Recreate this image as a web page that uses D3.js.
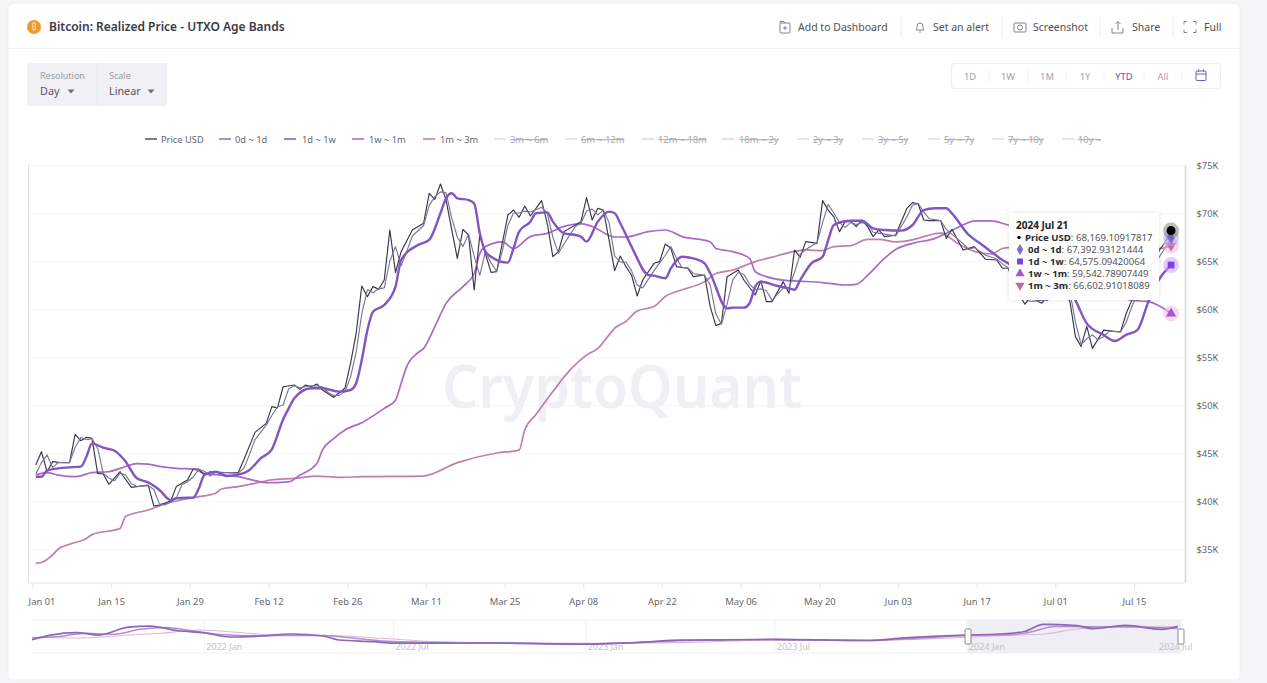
<!DOCTYPE html>
<html><head><meta charset="utf-8">
<script src="https://cdn.jsdelivr.net/npm/d3@7"></script>
<style>
html,body{margin:0;padding:0;background:#f6f6f8;overflow:hidden}
svg{display:block}
text{font-family:"Noto Sans","Open Sans",sans-serif}
</style></head><body><div id="chart"></div>
<script>
// ---------- text ----------
const chartTitle = "Bitcoin: Realized Price - UTXO Age Bands";
const actionLabels = ["Add to Dashboard","Set an alert","Screenshot","Share","Full"];
const rangeLabels = ["1D","1W","1M","1Y","YTD","All"];
const activeLegend = ["Price USD","0d ~ 1d","1d ~ 1w","1w ~ 1m","1m ~ 3m"];
const hiddenLegend = ["3m ~ 6m","6m ~ 12m","12m ~ 18m","18m ~ 2y","2y ~ 3y","3y ~ 5y","5y ~ 7y","7y ~ 10y","10y ~"];
const yTicks = [35,40,45,50,55,60,65,70,75];
const xTickLabels = ["Jan 01","Jan 15","Jan 29","Feb 12","Feb 26","Mar 11","Mar 25","Apr 08","Apr 22","May 06","May 20","Jun 03","Jun 17","Jul 01","Jul 15"];
const overviewLabels = ["2022 Jan","2022 Jul","2023 Jan","2023 Jul","2024 Jan","2024 Jul"];
const overviewLabelDates = ["2022-01-01","2022-07-01","2023-01-01","2023-07-01","2024-01-01","2024-07-01"];

// ---------- main series: [day of 2024 counted from Jan 01, value in $K] ----------
const priceUsd = [[0,43.75],[1,45.14],[2,43.05],[3,44.1],[4,44.03],[6,44],[7,46.94],[8,46.28],[9,46.63],[10,46.53],[11,42.88],[12,42.81],[13,41.74],[15,43.05],[17,41.42],[20,41.67],[21,39.48],[22,39.58],[24,40],[25,41.5],[27,42.19],[28,43.33],[29,43.33],[30,42.7],[31,43.05],[33,42.95],[36,42.95],[37,44.27],[39,47.15],[41,48.09],[42,49.83],[43,49.7],[44,51.9],[46,52.08],[47,51.63],[48,52.08],[49,51.9],[50,52.19],[51,51.56],[53,50.8],[55,51.74],[56,54.34],[57,57.47],[58,62.4],[59,61.29],[60,62.33],[61,62.05],[62,63.02],[63,68.23],[64,63.79],[65,65.97],[67,68.23],[69,68.92],[70,72.05],[71,71.42],[72,73.02],[73,71.35],[74,68.3],[75,65.28],[76,68.3],[77,67.71],[78,61.98],[79,67.71],[81,63.82],[82,63.89],[84,69.79],[85,70.31],[86,69.55],[87,70.73],[88,69.69],[90,71.29],[91,68.93],[92,65.45],[93,65.97],[94,68.06],[96,68.75],[97,69.1],[98,71.6],[99,69.27],[100,70.49],[101,70.3],[102,67.19],[103,64],[104,65.52],[105,64.41],[106,63.54],[107,61.36],[108,63.02],[110,64.76],[111,64.93],[112,66.77],[113,66.32],[114,64.41],[116,64.24],[117,63.37],[119,63.54],[120,60.25],[121,58.27],[122,58.51],[123,63.37],[125,64.06],[126,63.02],[128,61.46],[129,62.92],[130,60.77],[131,60.77],[133,62.85],[134,61.63],[135,66.15],[136,65.38],[137,67.02],[139,66.84],[140,71.29],[141,70.3],[142,69.6],[143,68.06],[144,69.1],[145,69.1],[146,68.58],[147,69.27],[148,68.58],[149,67.54],[150,68.23],[151,67.54],[153,67.7],[155,70.49],[156,71.08],[157,70.94],[158,69.27],[159,69.2],[161,69.2],[162,67.36],[163,68.3],[165,66.15],[166,66.32],[167,66.5],[169,65.18],[171,65.1],[172,64.24],[173,64.24],[175,61.5],[176,60.5],[177,61.2],[179,60.6],[180,61.3],[182,62.5],[184,60.8],[185,57.1],[186,56.1],[187,58.2],[188,55.9],[190,57.8],[193,57.6],[194,59.5],[195,60.9],[197,64],[199,65],[200,66.2],[201,67],[202,68.17]];
const band0d1d = [[0,42.8],[1,44],[2,44.8],[3,43.5],[4,44],[6,44],[7,45.6],[8,46.6],[9,46.4],[10,46.5],[11,45.5],[12,42.9],[13,42.4],[14,42.1],[15,42.9],[16,42.7],[17,41.8],[18,41.5],[20,41.6],[21,41.2],[22,39.7],[23,39.6],[24,39.9],[25,40.3],[26,41.7],[27,42],[28,42.5],[29,43.3],[30,43.1],[31,42.6],[32,43],[33,43],[36,42.9],[37,43.4],[38,44.8],[39,46.4],[41,47.9],[42,48.9],[43,49.8],[44,50],[45,51.7],[46,52],[47,51.8],[48,51.9],[49,52],[50,52],[51,51.9],[52,51.3],[53,51],[54,51],[55,51.4],[56,52.9],[57,55.5],[58,59.5],[59,62],[60,61.7],[61,62.1],[62,62.2],[63,65],[64,66.5],[65,64.5],[66,66],[67,67.6],[69,68.7],[70,70.8],[71,71.7],[72,72.2],[73,72.1],[74,69.5],[75,67.5],[76,66.5],[77,67.8],[78,65.5],[79,63.5],[80,66],[81,64.8],[82,63.9],[83,66],[84,68.7],[85,70],[86,70],[87,70.2],[88,70.1],[90,70.6],[91,70],[92,67.5],[93,65.8],[94,66.8],[96,68.6],[97,68.9],[98,70.2],[99,70.4],[100,69.8],[101,70.3],[102,69],[103,65.5],[104,64.9],[105,64.9],[106,64],[107,62.5],[108,62.2],[110,64],[111,64.8],[112,65.6],[113,66.5],[114,65.3],[115,64.3],[116,64.3],[117,63.7],[119,63.5],[120,62.5],[121,59.5],[122,58.4],[123,60.5],[124,63],[125,63.8],[126,63.6],[127,62.6],[128,62],[129,62.1],[130,61.9],[131,60.9],[133,62.2],[134,62.2],[135,63.8],[136,65.7],[137,66.2],[139,66.9],[140,69],[141,70.9],[142,70],[143,69],[144,68.5],[145,69],[146,68.8],[147,69],[148,68.9],[149,68],[150,67.9],[151,67.8],[153,67.6],[155,69.6],[156,70.8],[157,71],[158,70.1],[159,69.4],[161,69.2],[162,68.3],[163,67.8],[165,66.8],[166,66.2],[167,66.4],[169,65.6],[171,65.2],[172,64.7],[173,64.3],[175,62],[176,61],[177,60.8],[179,60.9],[180,60.9],[182,61.9],[183,62],[184,61.8],[185,58.6],[186,56.3],[187,56.9],[188,57.3],[189,56.8],[190,57.1],[191,57.7],[193,57.6],[194,58.6],[195,60.2],[197,63],[199,64.5],[200,65.5],[201,66.4],[202,67.39]];
const band1d1w = [[0,42.53],[1,42.53],[2,43.16],[4,43.4],[6,43.5],[8,43.58],[9,44.6],[10,46],[12,45.55],[14,45.24],[16,44.1],[18,42.36],[20,41.94],[22,41.15],[24,40.1],[25,40.28],[27,40.35],[28,40.35],[29,41.3],[30,42.7],[32,43.05],[34,42.6],[37,42.9],[38,43.23],[40,44.44],[42,45.38],[44,48.5],[45,49.65],[46,50.7],[49,51.74],[51,51.74],[54,51.39],[56,51.56],[57,52.26],[58,54.69],[59,57.8],[60,59.72],[62,60.42],[64,62.33],[65,65.1],[68,66.67],[70,67.2],[72,69.97],[73,71.53],[74,72.05],[75,71.53],[77,71.35],[78,71],[79,67.88],[80,65.97],[81,65.45],[84,64.83],[85,66.32],[86,68.06],[88,69.1],[89,69.97],[91,70.07],[92,69.1],[94,67.88],[96,67.71],[97,67.54],[98,67.02],[100,69.1],[102,70.14],[103,69.97],[104,68.93],[106,66.5],[109,63.54],[110,63.47],[112,63.2],[113,64.24],[115,65.45],[117,65.28],[119,64.76],[120,63.72],[123,60.07],[124,60.14],[126,60.14],[127,60.6],[128,62.33],[129,62.85],[132,62.4],[134,62.15],[135,62],[136,63],[138,64.76],[140,65.45],[141,67.19],[142,68.75],[145,69.2],[147,69.2],[149,68.4],[151,68.23],[154,68.16],[156,68.75],[158,70.3],[160,70.49],[162,70.49],[163,69.97],[166,67.71],[168,66.84],[170,65.97],[172,65.1],[173,64.76],[175,63.8],[178,62.5],[180,62.2],[182,62.4],[184,62],[185,60.9],[187,58.5],[190,57.3],[192,56.67],[194,57.3],[196,57.8],[198,60.8],[200,63.2],[202,64.58]];
const band1w1m = [[0,42.71],[2,42.95],[4,42.7],[7,42.53],[10,42.95],[13,43.05],[15,43.4],[18,43.9],[20,43.85],[22,43.6],[25,43.4],[28,43.33],[30,42.88],[33,42.7],[36,42.53],[39,42.12],[41,41.9],[45,42],[47,42.7],[50,43.9],[51,45.3],[53,46.5],[55,47.4],[58,48.16],[62,49.65],[64,50.5],[65,52.26],[66,54],[68,55.45],[69,55.9],[71,58.16],[73,60.59],[76,62.33],[78,63.7],[79,65.8],[80,66.5],[83,67],[85,66.3],[88,67.54],[91,67.88],[94,68.6],[97,68.9],[99,68.6],[103,67.5],[105,67.5],[109,68.06],[112,68.23],[115,67.54],[120,67],[121,66.3],[124,65.97],[127,65.28],[128,63.9],[130,63.37],[133,63],[136,62.9],[140,62.75],[144,62.5],[146,62.57],[148,63.5],[151,65.28],[153,66.2],[156,66.84],[160,67.36],[162,67.9],[165,68.75],[167,69.17],[170,69.17],[173,68.75],[176,68.4],[180,67.5],[184,66],[187,64],[191,62],[195,60.9],[198,60.77],[202,59.54]];
const band1m3m = [[0,33.5],[1,33.6],[3,34.4],[4,35],[6,35.5],[9,36.1],[10,36.5],[15,37.15],[16,38.4],[20,39.06],[23,39.7],[25,40],[29,40.45],[32,40.8],[33,41.25],[36,41.5],[39,41.84],[42,42.2],[46,42.36],[50,42.6],[54,42.46],[58,42.53],[69,42.6],[75,44],[82,45],[86,45.3],[87,47.4],[89,49],[92,51.4],[95,53.6],[98,55.2],[100,55.9],[102,57.3],[103,58],[105,58.7],[107,59.8],[110,60.25],[112,61.3],[115,62],[119,62.85],[121,63.7],[124,64.06],[128,64.93],[131,65.4],[135,66],[137,66.15],[140,66.08],[142,66.5],[145,66.6],[148,67.26],[150,67.26],[153,67],[156,67.2],[158,67.54],[161,67.9],[164,66.84],[167,66],[170,65.73],[172,66.3],[173,66.4],[180,66.5],[190,66.6],[200,66.3],[202,66.6]];

// ---------- overview strip series: [date, value in $K] ----------
const overviewDark = [["2021-07-20",29],["2021-08-07",42],["2021-09-01",48.6],["2021-09-22",42],["2021-10-20",64],["2021-11-10",67],["2021-12-07",54],["2022-01-01",48],["2022-01-26",36.7],["2022-02-25",39.4],["2022-03-25",45],["2022-04-25",39.4],["2022-05-10",28.3],["2022-06-12",23.6],["2022-07-01",19.5],["2022-10-01",20],["2023-01-01",17],["2023-03-01",23],["2023-04-01",28],["2023-07-01",30],["2023-10-01",27],["2023-11-01",34],["2023-12-05",39],["2024-01-01",42],["2024-02-01",45],["2024-02-25",52],["2024-03-14",72],["2024-04-15",68],["2024-05-01",60],["2024-06-01",69],["2024-07-05",58],["2024-07-21",66]];
const overviewMid = [["2021-07-20",34],["2021-08-15",38],["2021-09-10",47],["2021-10-05",44],["2021-11-01",58],["2021-11-25",63],["2021-12-20",54],["2022-01-20",43],["2022-02-20",40],["2022-03-25",41],["2022-04-25",41],["2022-05-25",33],["2022-07-01",24],["2022-10-01",20],["2023-01-01",17.5],["2023-04-01",26],["2023-07-01",30],["2023-10-01",27],["2023-11-15",33],["2024-01-01",41],["2024-02-10",43],["2024-03-01",50],["2024-03-25",66],["2024-05-01",65],["2024-06-01",65],["2024-07-21",60]];
const overviewLight = [["2021-07-20",36],["2021-09-01",34],["2021-10-15",41],["2021-11-20",47],["2021-12-25",56],["2022-02-01",50],["2022-03-15",41],["2022-05-01",41],["2022-06-20",33],["2022-08-01",25],["2022-10-01",21],["2023-01-01",19],["2023-04-01",21],["2023-07-01",28],["2023-10-01",28],["2024-01-01",36],["2024-02-15",42],["2024-03-15",45],["2024-04-15",59],["2024-05-15",64],["2024-07-21",66]];

// ---------- end-of-range tooltip ----------
const tooltipDate = "2024 Jul 21";
const tooltipNames = ["Price USD","0d ~ 1d","1d ~ 1w","1w ~ 1m","1m ~ 3m"];
const tooltipValues = ["68,169.10917817","67,392.93121444","64,575.09420064","59,542.78907449","66,602.91018089"];
const seriesColors = ["#38344a","#7b7698","#8055c6","#ab68c8","#bf7fa8"];
const legendColors = ["#55525f","#7d70c4","#7058c8","#a965c8","#bf7aa0"];
const markerColors = ["#000000","#7f68d8","#7d45dc","#a855c8","#bd6a9c"];

// ---------- page ----------
const svg = d3.select("#chart").append("svg").attr("width",1267).attr("height",683);
const shadow = svg.append("defs").append("filter").attr("id","soft").attr("x","-10%").attr("y","-10%").attr("width","120%").attr("height","120%");
shadow.append("feDropShadow").attr("dx",0).attr("dy",0).attr("stdDeviation",2).attr("flood-color","#000").attr("flood-opacity",0.12);

svg.append("rect").attr("x",8).attr("y",3).attr("width",1232).attr("height",677).attr("rx",5).attr("fill","#fff").attr("stroke","#f0f0f3");
svg.append("line").attr("x1",8).attr("x2",1240).attr("y1",48.5).attr("y2",48.5).attr("stroke","#f1f1f3");

// title
svg.append("circle").attr("cx",34).attr("cy",27).attr("r",7).attr("fill","#f09a30");
svg.append("text").attr("x",34).attr("y",30).attr("text-anchor","middle").attr("font-size",8).attr("fill","#fbe0b8").text("₿");
svg.append("text").attr("x",49).attr("y",31).attr("font-size",12).attr("font-weight",600).attr("fill","#3a3a44").text(chartTitle);

// header actions
const actionX = [798,933,1033,1132,1204];
const iconX = [785,920,1020,1118,1190];
const actions = svg.append("g");
actions.selectAll("text").data(actionLabels).join("text").attr("x",(d,i)=>actionX[i]).attr("y",31).attr("font-size",10.5).attr("fill","#4f4f58").text(d=>d);
const icon = actions.append("g").attr("fill","none").attr("stroke","#77777f").attr("stroke-width",0.9);
icon.append("rect").attr("x",iconX[0]-5).attr("y",23).attr("width",10).attr("height",10).attr("rx",1);
icon.append("path").attr("d",`M${iconX[0]-5} 23v-1.5h4l1 1.5M${iconX[0]-2} 28h4M${iconX[0]} 26v4`);
icon.append("path").attr("d",`M${iconX[1]-4} 30c1-1 1-2 1-4a3 3 0 0 1 6 0c0 2 0 3 1 4zM${iconX[1]-1} 32h2`);
icon.append("rect").attr("x",iconX[2]-6).attr("y",23).attr("width",12).attr("height",9).attr("rx",1);
icon.append("circle").attr("cx",iconX[2]).attr("cy",27.5).attr("r",2.5);
icon.append("path").attr("d",`M${iconX[3]-6} 28v5h11v-5M${iconX[3]} 30v-8M${iconX[3]-2.5} 24l2.5-2.5 2.5 2.5`);
icon.append("path").attr("d",`M${iconX[4]-6} 24.5v-3h3M${iconX[4]+3} 21.5h3v3M${iconX[4]+6} 29.5v3h-3M${iconX[4]-3} 32.5h-3v-3`);
actions.selectAll("line.sep").data([901,1002,1100,1173]).join("line").attr("class","sep").attr("x1",d=>d).attr("x2",d=>d).attr("y1",17).attr("y2",37).attr("stroke","#f0f0f2");

// resolution / scale box
svg.append("rect").attr("x",27).attr("y",63).attr("width",140).attr("height",43).attr("rx",2).attr("fill","#f1f1f5");
svg.append("rect").attr("x",96).attr("y",63).attr("width",1).attr("height",43).attr("fill","#ecedf1");
const ctl = svg.append("g");
ctl.append("text").attr("x",40).attr("y",79).attr("font-size",9).attr("fill","#9a9aa2").text("Resolution");
ctl.append("text").attr("x",109).attr("y",79).attr("font-size",9).attr("fill","#9a9aa2").text("Scale");
ctl.append("text").attr("x",40).attr("y",95).attr("font-size",10.8).attr("fill","#55555e").text("Day");
ctl.append("text").attr("x",109).attr("y",95).attr("font-size",10.8).attr("fill","#55555e").text("Linear");
ctl.selectAll("path").data([71,151]).join("path").attr("d",d=>`M${d-3.5} 89.5h7l-3.5 4z`).attr("fill","#707078");

// range buttons
svg.append("rect").attr("x",951.5).attr("y",63.5).attr("width",269).attr("height",25).attr("rx",3).attr("fill","#fff").attr("stroke","#eeeef1");
const rangeX = [970,1008,1047,1085,1124,1163];
svg.selectAll("text.range").data(rangeLabels).join("text").attr("class","range").attr("x",(d,i)=>rangeX[i]).attr("y",80).attr("text-anchor","middle").attr("font-size",9.4)
  .attr("fill",d=>d==="YTD"?"#5f52b8":"#a2a2aa").text(d=>d);
svg.selectAll("line.rsep").data([989,1028,1066,1104,1144,1182]).join("line").attr("class","rsep").attr("x1",d=>d).attr("x2",d=>d).attr("y1",70).attr("y2",82).attr("stroke","#f0f0f2");
const cal = svg.append("g").attr("fill","none").attr("stroke","#6a5fc0").attr("stroke-width",1);
cal.append("rect").attr("x",1196).attr("y",71).attr("width",10).attr("height",9.5).attr("rx",1);
cal.append("path").attr("d","M1196 74h10M1198.5 69.5v2M1203.5 69.5v2");

// legend
const legendX = [145,219,284,352,423,494,565,642,722,797,862,928,992,1062];
const legendTextX = [161,235,302,369,440,510,581,658,739,813,878,944,1008,1078];
const allLegend = activeLegend.concat(hiddenLegend);
const legend = svg.append("g").selectAll("g").data(allLegend).join("g");
legend.append("line").attr("x1",(d,i)=>legendX[i]).attr("x2",(d,i)=>legendX[i]+12).attr("y1",139).attr("y2",139)
  .attr("stroke",(d,i)=>i<5?legendColors[i]:"#dcdcdf").attr("stroke-width",1.5);
legend.append("text").attr("x",(d,i)=>legendTextX[i]).attr("y",143).attr("font-size",9.3)
  .attr("fill",(d,i)=>i<5?"#66666e":"#a8a8ae").attr("text-decoration",(d,i)=>i<5?null:"line-through").text(d=>d);

// ---------- main chart ----------
const startDate = new Date(2024,0,1), endDate = new Date(2024,6,22);
const fmtCategory = d3.timeFormat("%b %d");
const categories = d3.timeDay.range(startDate,endDate).map(fmtCategory);
const x = d3.scaleBand().domain(categories).range([33,33+categories.length*5.62]);
const cx = day => x(categories[day]) + x.bandwidth()/2;
const y = d3.scaleLinear().domain([35,75]).range([549,165]);

const plotLeft = 28, plotRight = 1185.5, plotBottom = 583;

svg.append("g").selectAll("line").data(yTicks).join("line")
  .attr("x1",plotLeft).attr("x2",plotRight).attr("y1",d=>y(d)+0.5).attr("y2",d=>y(d)+0.5).attr("stroke","#f7f7f8");

svg.append("text").attr("x",622).attr("y",408).attr("text-anchor","middle").attr("font-size",60).attr("font-weight",600)
  .attr("textLength",360).attr("lengthAdjust","spacingAndGlyphs").attr("fill","#f0f0f4").text("CryptoQuant");

svg.append("line").attr("x1",plotLeft+0.5).attr("x2",plotLeft+0.5).attr("y1",165).attr("y2",plotBottom).attr("stroke","#dcdcde");
svg.append("line").attr("x1",plotRight).attr("x2",plotRight).attr("y1",165).attr("y2",plotBottom).attr("stroke","#d8d8da").attr("stroke-width",1.5);
svg.append("line").attr("x1",plotLeft).attr("x2",plotRight).attr("y1",plotBottom).attr("y2",plotBottom).attr("stroke","#e6e6e8");

const yAxis = svg.append("g").attr("transform",`translate(${plotRight},0)`)
  .call(d3.axisRight(y).tickValues(yTicks).tickSize(0).tickPadding(11).tickFormat(d=>`$${d}K`));
yAxis.select(".domain").remove();
yAxis.selectAll("text").attr("font-size",9.4).attr("fill","#66666e").attr("font-family",null);

const xAxis = svg.append("g").attr("transform",`translate(${-x.bandwidth()/2},${plotBottom})`)
  .call(d3.axisBottom(x).tickValues(xTickLabels).tickSize(5).tickPadding(10));
xAxis.select(".domain").remove();
xAxis.selectAll("line").attr("stroke","#e2e2e4");
xAxis.selectAll("text").attr("font-size",9.4).attr("fill","#66666e").attr("font-family",null);
xAxis.select("text").attr("dx",9);

const straight = d3.line().x(d=>cx(d[0])).y(d=>y(d[1]));
const smooth = d3.line().x(d=>cx(d[0])).y(d=>y(d[1])).curve(d3.curveMonotoneX);
const bands = [
  {data:band1m3m, gen:smooth, color:seriesColors[4], w:1.7},
  {data:band1w1m, gen:smooth, color:seriesColors[3], w:1.7},
  {data:priceUsd, gen:straight, color:seriesColors[0], w:1.15},
  {data:band0d1d, gen:straight, color:seriesColors[1], w:1.15},
  {data:band1d1w, gen:smooth, color:seriesColors[2], w:2.4}
];
svg.append("g").attr("fill","none").attr("stroke-linejoin","round").selectAll("path").data(bands).join("path")
  .attr("d",d=>d.gen(d.data)).attr("stroke",d=>d.color).attr("stroke-width",d=>d.w);

// end markers
const last = a => a[a.length-1];
const endPoints = [priceUsd,band0d1d,band1d1w,band1w1m,band1m3m].map(last);
const symbols = [d3.symbolCircle,d3.symbolDiamond,d3.symbolSquare,d3.symbolTriangle,d3.symbolTriangle];
const haloColors = ["#6b6b70","#b9a8ec","#c9a4ff","#eebcf0","#f0b8d8"];
const drawOrder = [4,3,2,1,0];
const marks = svg.append("g").selectAll("g").data(drawOrder).join("g")
  .attr("transform",i=>`translate(${cx(endPoints[i][0])},${y(endPoints[i][1])})`);
marks.append("circle").attr("r",8).attr("fill",i=>haloColors[i]).attr("opacity",i=>i===0?0.45:0.55);
marks.append("path").attr("d",i=>d3.symbol(symbols[i],i===0?64:46)()).attr("transform",i=>i===4?"rotate(180)":null).attr("fill",i=>markerColors[i]);

// tooltip
const tip = svg.append("g");
tip.append("rect").attr("x",1009).attr("y",213).attr("width",150).attr("height",87).attr("rx",2).attr("fill","#fff").attr("fill-opacity",0.97).attr("filter","url(#soft)");
tip.append("text").attr("x",1016).attr("y",229).attr("font-size",10).attr("font-weight",700).attr("fill","#222").text(tooltipDate);
const rowY = [241,253,265,277,289];
const rows = tip.selectAll("g").data(tooltipNames).join("g");
rows.append("path").attr("transform",(d,i)=>`translate(${i===0?1019:1020},${rowY[i]-3.5})${i===4?" rotate(180)":""}`)
  .attr("d",(d,i)=>d3.symbol(symbols[i],i===0?9:36)()).attr("fill",(d,i)=>markerColors[i]);
const rowText = rows.append("text").attr("x",(d,i)=>i===0?1025:1028).attr("y",(d,i)=>rowY[i]).attr("font-size",9.6).attr("fill","#555");
rowText.append("tspan").attr("font-weight",700).attr("fill","#2a2a30").text(d=>d);
rowText.append("tspan").text((d,i)=>": "+tooltipValues[i]);

// ---------- overview strip ----------
const parseDay = d3.timeParse("%Y-%m-%d");
const ox = d3.scaleTime().domain([parseDay("2021-07-20"),parseDay("2024-07-21")]).range([32,1178]);
const oy = d3.scaleLinear().domain([0,80]).range([650.2,621.4]);
const ovTop = 620, ovBottom = 653, ovLeft = 32, ovRight = 1183;
const selStart = 968, selEnd = 1181;
svg.append("rect").attr("x",selStart).attr("y",ovTop).attr("width",selEnd-selStart).attr("height",ovBottom-ovTop).attr("fill","#efeef4");
svg.append("line").attr("x1",ovLeft).attr("x2",ovRight).attr("y1",ovTop).attr("y2",ovTop).attr("stroke","#f0f0f2");
svg.append("line").attr("x1",ovLeft).attr("x2",ovRight).attr("y1",ovBottom).attr("y2",ovBottom).attr("stroke","#f0f0f2");
svg.append("g").selectAll("line").data(overviewLabelDates).join("line")
  .attr("x1",d=>ox(parseDay(d))).attr("x2",d=>ox(parseDay(d))).attr("y1",ovTop).attr("y2",ovBottom).attr("stroke","#f2f2f4");
svg.append("g").selectAll("text").data(overviewLabels).join("text")
  .attr("x",(d,i)=>ox(parseDay(overviewLabelDates[i]))+2).attr("y",650).attr("font-size",9).attr("fill","#c2c2c8").text(d=>d);
const ovLine = d3.line().x(d=>ox(parseDay(d[0]))).y(d=>oy(d[1])).curve(d3.curveMonotoneX);
const ovSeries = [{d:overviewLight,c:"#dcb8d8",w:1.1},{d:overviewMid,c:"#b88cd0",w:1.5},{d:overviewDark,c:"#8e66b8",w:1.7}];
svg.append("g").attr("fill","none").selectAll("path").data(ovSeries).join("path")
  .attr("d",d=>ovLine(d.d)).attr("stroke",d=>d.c).attr("stroke-width",d=>d.w);
svg.append("g").selectAll("rect").data([selStart,selEnd]).join("rect")
  .attr("x",d=>d-3).attr("y",629).attr("width",6).attr("height",15).attr("rx",1).attr("fill","#fff").attr("stroke","#8a8a90").attr("stroke-width",1);
</script></body></html>
